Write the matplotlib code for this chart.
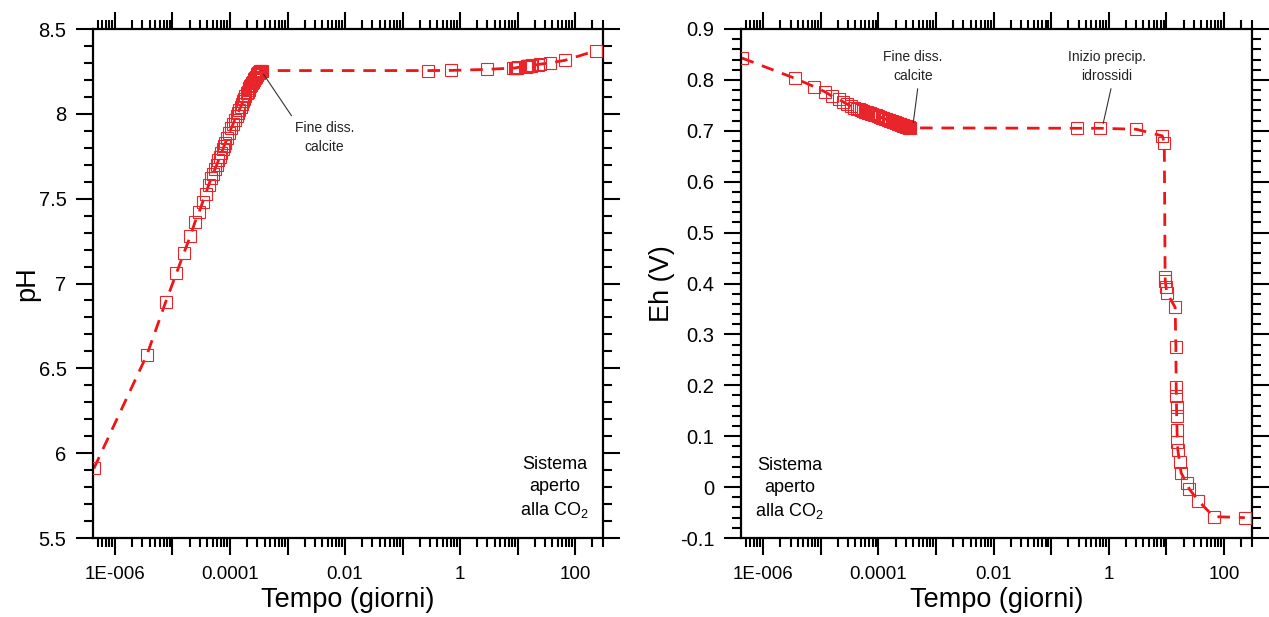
import matplotlib
matplotlib.use("Agg")
import matplotlib.pyplot as plt
from matplotlib.ticker import LogLocator, FixedLocator, FixedFormatter, NullFormatter, MultipleLocator

plt.rcParams['font.family'] = ['Liberation Sans', 'DejaVu Sans']
plt.rcParams['mathtext.fontset'] = 'custom'
plt.rcParams['mathtext.rm'] = 'Liberation Sans'
plt.rcParams['mathtext.it'] = 'Liberation Sans:italic'

# ---------------- data ----------------
# time in days
tempo = [4.3e-7, 3.6e-6, 7.6e-6, 1.17e-5, 1.58e-5, 2.05e-5, 2.45e-5, 2.9e-5, 3.35e-5,
         3.8e-5, 4.25e-5, 4.7e-5, 5.1e-5, 5.5e-5, 5.9e-5, 6.3e-5, 6.7e-5, 7.1e-5, 7.5e-5,
         7.9e-5, 8.3e-5, 9.0e-5, 9.8e-5, 1.06e-4, 1.14e-4, 1.22e-4, 1.30e-4, 1.38e-4,
         1.46e-4, 1.54e-4, 1.62e-4, 1.70e-4, 1.78e-4, 1.86e-4, 1.94e-4, 2.02e-4, 2.10e-4,
         2.18e-4, 2.26e-4, 2.34e-4, 2.42e-4, 2.50e-4, 2.58e-4, 2.66e-4, 2.74e-4, 2.82e-4,
         2.90e-4, 2.98e-4, 3.06e-4, 3.14e-4, 3.22e-4, 3.30e-4, 3.38e-4, 3.46e-4, 3.55e-4,
         0.28, 0.70, 3.0, 8.5, 9.2, 9.5, 9.6, 9.8, 10.2, 14.2, 14.6, 14.8, 14.9, 15.0,
         15.1, 15.3, 15.5, 15.8, 16.9, 18.0, 22.6, 25.0, 36.0, 66.0, 230.0]

ph = [5.91, 6.58, 6.89, 7.06, 7.18, 7.28, 7.36, 7.42, 7.48,
      7.53, 7.58, 7.62, 7.647, 7.675, 7.70, 7.726, 7.748, 7.77, 7.79,
      7.81, 7.828, 7.858, 7.889, 7.919, 7.943, 7.965, 7.986, 8.006,
      8.025, 8.042, 8.059, 8.075, 8.09, 8.105, 8.12, 8.131, 8.142,
      8.153, 8.163, 8.171, 8.18, 8.189, 8.197, 8.205, 8.213, 8.22,
      8.227, 8.233, 8.238, 8.242, 8.246, 8.249, 8.252, 8.254, 8.255,
      8.255, 8.256, 8.262, 8.27, 8.27, 8.272, 8.272, 8.273, 8.274, 8.278, 8.279,
      8.279, 8.28, 8.28, 8.28, 8.281, 8.281, 8.282, 8.284, 8.286, 8.29, 8.293,
      8.30, 8.315, 8.372]

eh = [0.843, 0.803, 0.787, 0.777, 0.768, 0.762, 0.757, 0.752, 0.748,
      0.7457, 0.7437, 0.7419, 0.7404, 0.7391, 0.7378, 0.7366, 0.7355, 0.7345, 0.7335,
      0.7326, 0.7317, 0.7303, 0.7287, 0.7273, 0.7260, 0.7248, 0.7236, 0.7226,
      0.7215, 0.7206, 0.7197, 0.7188, 0.718, 0.7172, 0.7164, 0.7157, 0.715,
      0.7143, 0.7137, 0.7131, 0.7125, 0.7119, 0.7113, 0.7108, 0.7102, 0.7097,
      0.7092, 0.7087, 0.7083, 0.7078, 0.7074, 0.7069, 0.7065, 0.7061, 0.7057,
      0.705, 0.705, 0.703, 0.690, 0.676, 0.413, 0.404, 0.394, 0.382, 0.353, 0.275,
      0.197, 0.178, 0.158, 0.139, 0.112, 0.089, 0.073, 0.050, 0.028, 0.0075, -0.004,
      -0.027, -0.058, -0.060]

xtick_vals = [1e-6, 1e-4, 1e-2, 1, 100]
xtick_labels = ['1E-006', '0.0001', '0.01', '1', '100']
xlabel = 'Tempo (giorni)'
ylabel_left = 'pH'
ylabel_right = 'Eh (V)'
note_text = 'Sistema\naperto\nalla CO$_2$'

# ---------------- figure ----------------
W, H = 1269, 617
fig = plt.figure(figsize=(W / 100, H / 100), dpi=100)
ax1 = fig.add_axes([93 / W, 79 / H, 510 / W, 509 / H])
ax2 = fig.add_axes([741 / W, 79 / H, 511 / W, 509 / H])

RED_L = '#f01515'
RED_M = '#e8252a'


def style(ax):
    ax.set_xscale('log')
    ax.set_xlim(4.15e-7, 306)
    decades = [10.0 ** k for k in range(-7, 4)]
    ax.xaxis.set_major_locator(FixedLocator(decades))
    labs = []
    for d in decades:
        lab = ''
        for v, s in zip(xtick_vals, xtick_labels):
            if abs(d - v) / v < 1e-6:
                lab = s
        labs.append(lab)
    ax.xaxis.set_major_formatter(FixedFormatter(labs))
    ax.xaxis.set_minor_locator(LogLocator(base=10, subs=range(2, 10), numticks=30))
    ax.xaxis.set_minor_formatter(NullFormatter())
    ax.tick_params(which='both', direction='out', top=True, right=True,
                   labeltop=False, labelright=False, width=1.5, colors='black')
    ax.tick_params(which='major', length=12)
    ax.tick_params(which='minor', length=6.5)
    ax.tick_params(axis='x', which='major', pad=8, labelsize=13.5)
    ax.tick_params(axis='y', which='major', pad=7, labelsize=14.5)
    for sp in ax.spines.values():
        sp.set_linewidth(1.6)
    ax.set_xlabel(xlabel, fontsize=19.5, labelpad=3)


def draw(ax, x, y):
    ax.plot(x, y, color=RED_L, lw=2.0, dashes=(4.5, 3.2), zorder=2)
    ax.plot(x, y, 's', mfc='none', mec=RED_M, ms=9, mew=0.8, zorder=3)


# left: pH
style(ax1)
draw(ax1, tempo, ph)
ax1.set_ylim(5.5, 8.5)
ax1.yaxis.set_major_locator(MultipleLocator(0.5))
ax1.yaxis.set_minor_locator(MultipleLocator(0.1))
ax1.yaxis.set_major_formatter(plt.FuncFormatter(lambda v, p: ('%g' % v)))
ax1.set_ylabel(ylabel_left, fontsize=19.5, labelpad=-1)
ax1.annotate('', xy=(3.6e-4, 8.247), xytext=(1.25e-3, 7.975),
             arrowprops=dict(arrowstyle='-', color='#333333', lw=0.8))
ax1.text(4.4e-3, 7.86, 'Fine diss.\ncalcite', ha='center', va='center',
         fontsize=10, color='#222222', linespacing=1.4)
ax1.text(0.905, 0.098, note_text, transform=ax1.transAxes, ha='center', va='center',
         multialignment='center', fontsize=13, linespacing=1.38)

# right: Eh
style(ax2)
draw(ax2, tempo, eh)
ax2.set_ylim(-0.1, 0.9)
ax2.yaxis.set_major_locator(MultipleLocator(0.1))
ax2.yaxis.set_minor_locator(MultipleLocator(0.02))
ax2.yaxis.set_major_formatter(plt.FuncFormatter(lambda v, p: ('%g' % round(v, 2))))
ax2.set_ylabel(ylabel_right, fontsize=19.5, labelpad=4)
ax2.annotate('', xy=(4.0e-4, 0.711), xytext=(4.9e-4, 0.788),
             arrowprops=dict(arrowstyle='-', color='#333333', lw=0.8))
ax2.text(4.0e-4, 0.826, 'Fine diss.\ncalcite', ha='center', va='center',
         fontsize=10, color='#222222', linespacing=1.4)
ax2.annotate('', xy=(0.78, 0.709), xytext=(1.12, 0.788),
             arrowprops=dict(arrowstyle='-', color='#333333', lw=0.8))
ax2.text(0.92, 0.826, 'Inizio precip.\nidrossidi', ha='center', va='center',
         fontsize=10, color='#222222', linespacing=1.4)
ax2.text(0.095, 0.096, note_text, transform=ax2.transAxes, ha='center', va='center',
         multialignment='center', fontsize=13, linespacing=1.38)

fig.savefig('out.png', dpi=100)
